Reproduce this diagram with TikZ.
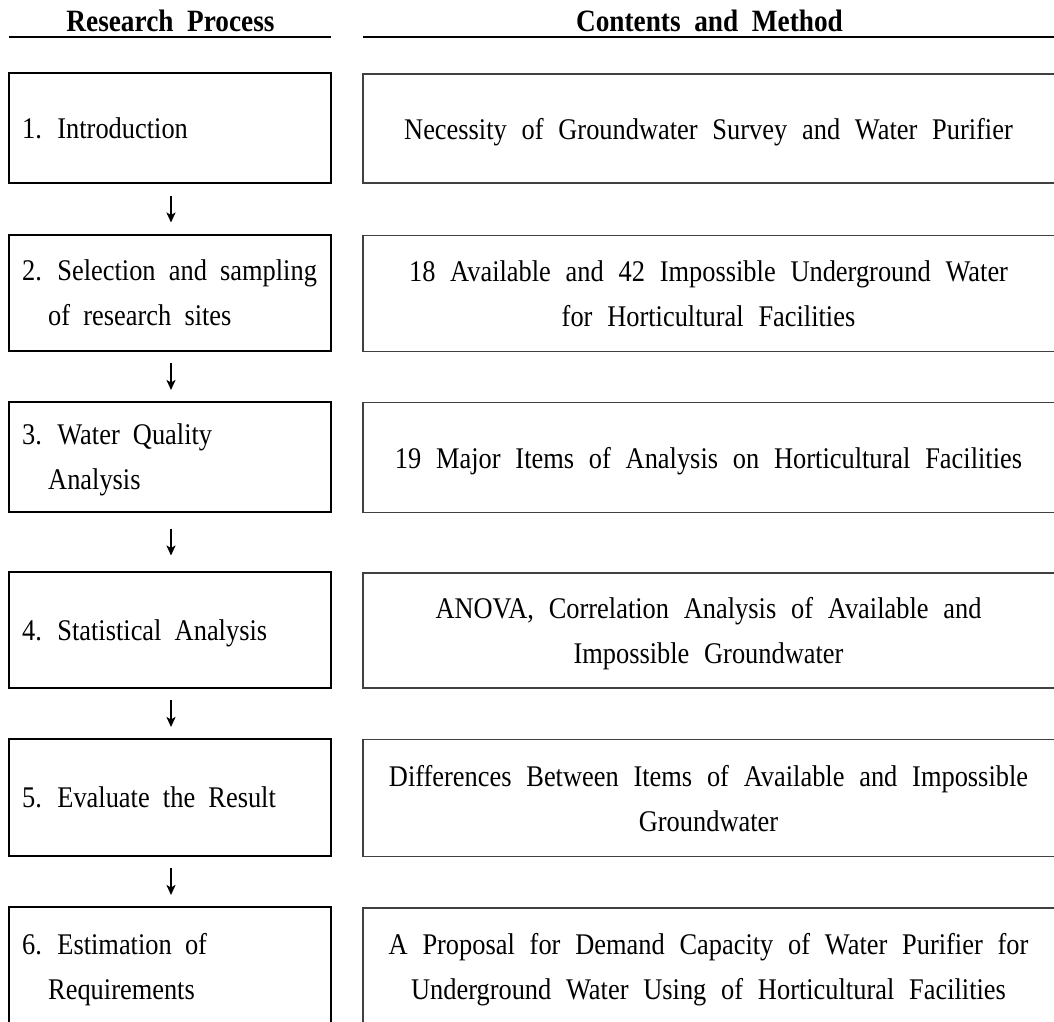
\documentclass[tikz,border=0pt]{standalone}
\usepackage{fontspec}
\setmainfont{Liberation Serif}[FakeStretch=0.88,WordSpace=2]
\usetikzlibrary{arrows.meta,calc}
\newcommand{\myrfont}{\fontsize{30}{45}\selectfont\spaceskip 14.8pt plus 3pt minus 2pt\relax}
\begin{document}
\begin{tikzpicture}[x=1pt,y=-1pt,
  lbox/.style={draw=black,line width=2.6pt,minimum width=322pt,inner sep=0pt,rectangle},
  rbox/.style={draw=black!75,line width=1.6pt,minimum width=701pt,inner sep=0pt,rectangle},
  ltext/.style={anchor=west,inner sep=0pt,align=left,text depth=0pt,font=\fontsize{30}{45}\selectfont},
  rtext/.style={inner sep=0pt,align=center,text depth=0pt,font=\myrfont},
  head/.style={inner sep=0pt,font=\fontsize{31}{36}\selectfont\bfseries},
  hline/.style={line width=2.4pt},
  arr/.style={line width=1.8pt,-{Stealth[length=10pt,width=9pt,inset=2.5pt]}}
]
\useasboundingbox (0,0) rectangle (1054,1021);
\clip (0,0) rectangle (1054,1021);

% headers
\node[head] (h1) at (170.5,21) {Research Process};
\node[head] (h2) at (709.5,21) {Contents and Method};
\coordinate (hl1a) at (9,37); \coordinate (hl1b) at (331,37);
\coordinate (hl2a) at (363,37); \coordinate (hl2b) at (1054,37);
\draw[hline] (hl1a) -- (hl1b);
\draw[hline] (hl2a) -- (hl2b);

% left boxes
\node[lbox,minimum height=110pt] (b1) at (170,128) {};
\node[lbox,minimum height=116pt] (b2) at (170,293) {};
\node[lbox,minimum height=110pt] (b3) at (170,457) {};
\node[lbox,minimum height=116pt] (b4) at (170,630) {};
\node[lbox,minimum height=117pt] (b5) at (170,797.5) {};
\node[lbox,minimum height=116pt] (b6) at (170,965) {};

% right boxes
\node[rbox,minimum height=109pt] (c1) at (713.5,128.5) {};
\node[rbox,minimum height=116pt] (c2) at (713.5,293.5) {};
\node[rbox,minimum height=110pt] (c3) at (713.5,457.5) {};
\node[rbox,minimum height=115pt] (c4) at (713.5,630.5) {};
\node[rbox,minimum height=117pt] (c5) at (713.5,798) {};
\node[rbox,minimum height=116pt] (c6) at (713.5,966) {};

% left texts
\node[ltext] (t1) at (22,128) {1. Introduction};
\node[ltext] (t2) at (22,293) {2. Selection and sampling\\\hspace*{26pt}of research sites};
\node[ltext] (t3) at (22,457) {3. Water Quality\\\hspace*{26pt}Analysis};
\node[ltext] (t4) at (22,630) {4. Statistical Analysis};
\node[ltext] (t5) at (22,797.5) {5. Evaluate the Result};
\node[ltext] (t6) at (22,966) {6. Estimation of\\\hspace*{26pt}Requirements};

% right texts
\node[rtext] (r1) at (708.5,128.5) {Necessity of Groundwater Survey and Water Purifier};
\node[rtext] (r2) at (708.5,293.5) {18 Available and 42 Impossible Underground Water\\for Horticultural Facilities};
\node[rtext] (r3) at (708.5,457.5) {19 Major Items of Analysis on Horticultural Facilities};
\node[rtext] (r4) at (708.5,630.5) {ANOVA, Correlation Analysis of Available and\\Impossible Groundwater};
\node[rtext] (r5) at (708.5,798) {Differences Between Items of Available and Impossible\\Groundwater};
\node[rtext] (r6) at (708.5,966) {A Proposal for Demand Capacity of Water Purifier for\\Underground Water Using of Horticultural Facilities};

% arrows (fixed length, centred in each gap)
\foreach \a/\b in {b1/b2,b2/b3,b3/b4,b4/b5,b5/b6}{
  \draw[arr] ($(\a.south)!0.5!(\b.north)+(1,-13.5)$) -- ($(\a.south)!0.5!(\b.north)+(1,13.5)$);
}
\end{tikzpicture}
\end{document}
